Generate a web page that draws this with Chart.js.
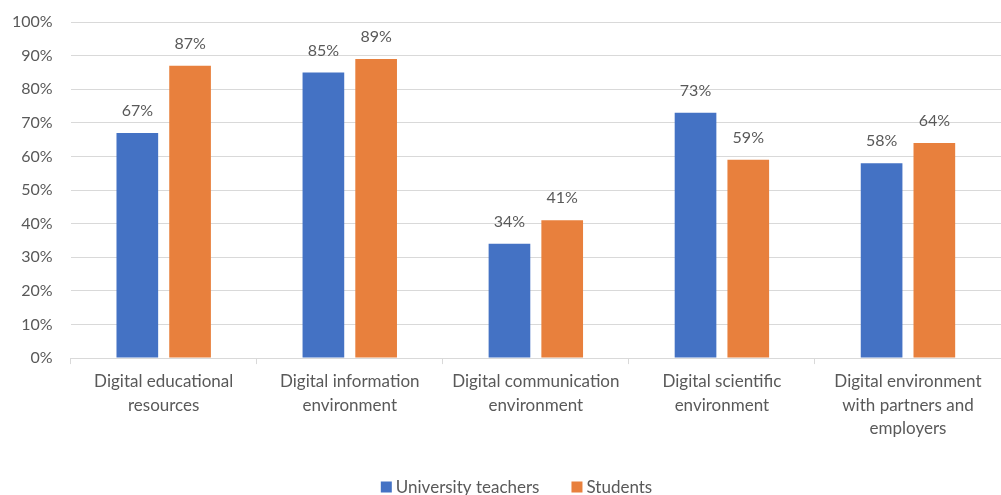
<!DOCTYPE html>
<html lang="en">
<head>
    <meta charset="UTF-8">
    <title>Digital environment survey</title>
    <style>
        body { margin: 0; padding: 0; background: #fff; }
        .chart-container { width: 1001px; height: 495px; }
    </style>
    <script src="https://cdn.jsdelivr.net/npm/chart.js"></script>
</head>
<body>
    <div class="chart-container">
        <canvas id="surveyChart"></canvas>
    </div>

    <script>
    const categories = [
        ["Digital educational", "resources"],
        ["Digital information", "environment"],
        ["Digital communication", "environment"],
        ["Digital scientific", "environment"],
        ["Digital environment", "with partners and", "employers"]
    ];
    const teachers = [67, 85, 34, 73, 58];
    const students = [87, 89, 41, 59, 64];
    const yTicks = [0, 10, 20, 30, 40, 50, 60, 70, 80, 90, 100];

    const textColor = "#595959";
    const gridColor = "#d9d9d9";
    const fontFamily = "Lato, 'Open Sans', sans-serif";

    // draws the "67%" style labels above each bar
    const barLabels = {
        id: "barLabels",
        afterDatasetsDraw(chart) {
            const ctx = chart.ctx;
            ctx.save();
            ctx.font = "16px " + fontFamily;
            ctx.fillStyle = textColor;
            ctx.textAlign = "center";
            ctx.textBaseline = "middle";
            chart.data.datasets.forEach((ds, i) => {
                chart.getDatasetMeta(i).data.forEach((bar, j) => {
                    ctx.fillText(ds.data[j] + "%", bar.x, bar.y - 22);
                });
            });
            ctx.restore();
        }
    };

    // legend drawn by hand so the spacing matches the original
    const bottomLegend = {
        id: "bottomLegend",
        afterDraw(chart) {
            const ctx = chart.ctx;
            const sets = chart.data.datasets;
            ctx.save();
            ctx.font = "17px " + fontFamily;
            ctx.textBaseline = "middle";
            const box = 11, textGap = 4, itemGap = 32;
            const widths = sets.map(ds => ctx.measureText(ds.label).width);
            let total = 0;
            widths.forEach((w, i) => { total += box + textGap + w + (i ? itemGap : 0); });
            let x = chart.width / 2 + 16 - total / 2;
            const y = chart.height - 8;
            sets.forEach((ds, i) => {
                ctx.fillStyle = ds.backgroundColor;
                ctx.fillRect(x, y - box / 2, box, box);
                ctx.fillStyle = textColor;
                ctx.fillText(ds.label, x + box + textGap, y + 1);
                x += box + textGap + widths[i] + itemGap;
            });
            ctx.restore();
        }
    };

    new Chart(document.getElementById("surveyChart"), {
        type: "bar",
        data: {
            labels: categories,
            datasets: [
                {
                    label: "University teachers",
                    data: teachers,
                    backgroundColor: "#4472C4"
                },
                {
                    label: "Students",
                    data: students,
                    backgroundColor: "#E8803D"
                }
            ]
        },
        options: {
            responsive: true,
            maintainAspectRatio: false,
            animation: false,
            categoryPercentage: 0.567,
            barPercentage: 0.79,
            layout: { padding: { top: 22, left: -6, right: -4, bottom: 49 } },
            plugins: {
                legend: { display: false },
                tooltip: { enabled: false }
            },
            scales: {
                y: {
                    min: 0,
                    max: 100,
                    afterBuildTicks(scale) {
                        scale.ticks = yTicks.map(v => ({ value: v }));
                    },
                    ticks: {
                        color: textColor,
                        font: { size: 16, family: fontFamily, lineHeight: 0.5 },
                        padding: 18,
                        callback: v => v + "%"
                    },
                    grid: { color: gridColor, drawTicks: false },
                    border: { display: false }
                },
                x: {
                    ticks: {
                        color: textColor,
                        font: { size: 17, family: fontFamily, lineHeight: 1.41 },
                        padding: 5,
                        maxRotation: 0
                    },
                    grid: {
                        drawOnChartArea: false,
                        color: gridColor,
                        tickLength: 6
                    },
                    border: { color: gridColor }
                }
            }
        },
        plugins: [barLabels, bottomLegend]
    });
    </script>
</body>
</html>
